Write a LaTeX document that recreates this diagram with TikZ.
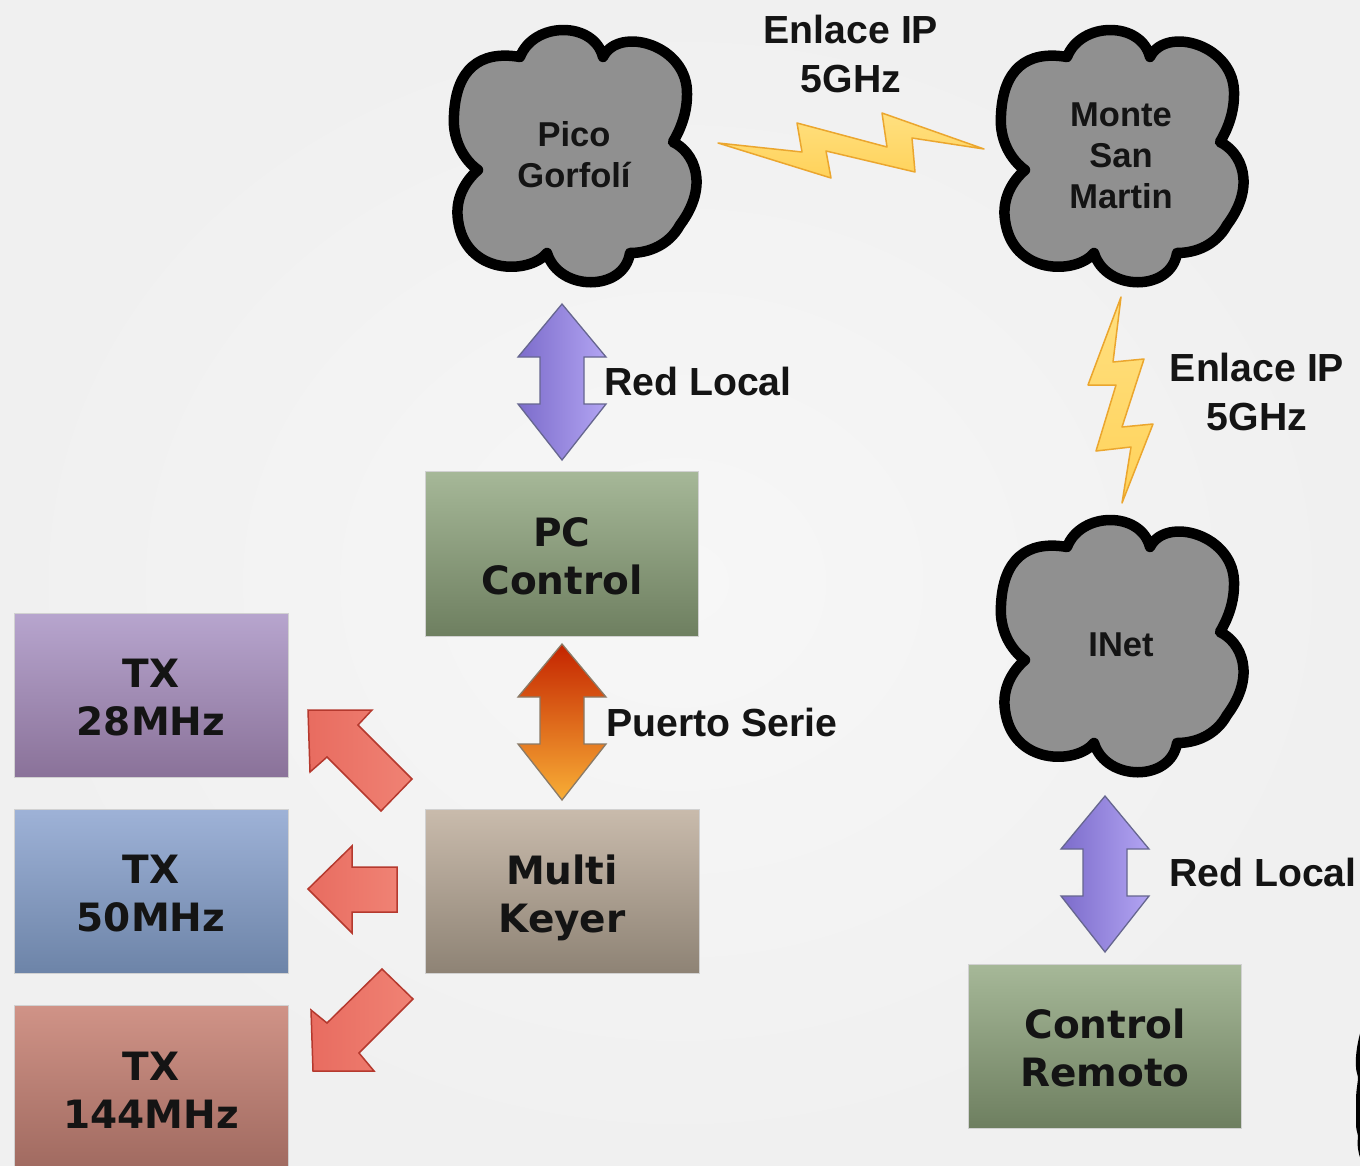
\documentclass[tikz,border=0pt]{standalone}
\usepackage{fontspec}
\setmainfont{Liberation Sans}
\newfontfamily\boxfont{DejaVu Sans}[BoldFont={DejaVu Sans Bold}]
\usetikzlibrary{shadings}
\definecolor{txtc}{HTML}{141414}
\definecolor{cloudgrey}{HTML}{909090}
\tikzset{
  x=1pt,y=-1pt,
  cloudshape/.style={draw=black,line width=10.5pt,fill=cloudgrey,line join=round},
  cloudlabel/.style={font=\fontsize{34.5}{41}\selectfont\bfseries,align=center,text=txtc,inner sep=0pt},
  linklabel/.style={font=\fontsize{39.2}{49}\selectfont\bfseries,align=center,text=txtc,inner sep=0pt},
  boxlabel/.style={font=\boxfont\fontsize{39}{48}\selectfont\bfseries,align=center,text=txtc,inner sep=0pt},
  panel/.style={draw=white!82!black,line width=1pt},
  bolt/.style={draw=boltedge,line width=1.5pt,line join=round,top color=boltA,bottom color=boltB},
  purplearrow/.style={draw=arrowedge,line width=1.3pt,left color=purpleL,right color=purpleR},
  fierarrow/.style={draw=fireedge,line width=1.3pt,top color=fireT,bottom color=fireB},
  redarrow/.style={draw=rededge,line width=1.5pt,left color=redL,right color=redR,line join=miter}
}
\definecolor{HTMLa}{HTML}{A6B898}
\definecolor{HTMLb}{HTML}{6E7F60}
\definecolor{boltA}{HTML}{FFE080}
\definecolor{boltB}{HTML}{FFD25A}
\definecolor{boltedge}{HTML}{EBA62E}
\definecolor{arrowedge}{HTML}{66668F}
\definecolor{purpleL}{HTML}{7C6CCB}
\definecolor{purpleR}{HTML}{B2A4F2}
\definecolor{fireedge}{HTML}{8A7A66}
\definecolor{fireT}{HTML}{C42400}
\definecolor{fireB}{HTML}{F8AE36}
\definecolor{rededge}{HTML}{B5392E}
\definecolor{redL}{HTML}{E86C60}
\definecolor{redR}{HTML}{F08274}
\definecolor{keyA}{HTML}{C9BBAC}
\definecolor{keyB}{HTML}{8E8375}
\definecolor{t28A}{HTML}{B7A5CE}
\definecolor{t28B}{HTML}{8A7299}
\definecolor{t50A}{HTML}{9EB2D7}
\definecolor{t50B}{HTML}{6D84A8}
\definecolor{t144A}{HTML}{D09387}
\definecolor{t144B}{HTML}{A06A60}
\definecolor{bgin}{HTML}{F7F7F7}
\definecolor{bgout}{HTML}{F0F0F0}
\newcommand{\cloudat}[2]{%
  \begin{scope}[shift={(#1,#2)}]
  \draw[cloudshape] (-54,-93)
    .. controls (-40,-129) and (20,-129) .. (29,-93)
    .. controls (45,-125) and (115,-105) .. (113,-55)
    .. controls (113,-35) and (105,-18) .. (99,-8)
    .. controls (120,2) and (136,35) .. (106,75)
    .. controls (95,95) and (75,103) .. (56,103)
    .. controls (50,142) and (-15,142) .. (-27,103)
    .. controls (-45,125) and (-109,125) .. (-116,70)
    .. controls (-119,50) and (-110,32) .. (-96,20)
    .. controls (-110,10) and (-122,-10) .. (-120,-35)
    .. controls (-118,-80) and (-95,-100) .. (-54,-93) -- cycle;
  \end{scope}}
\newcommand{\dblarrow}[3]{%
  \begin{scope}[shift={(#1,#2)}]
  \draw[#3] (0,0) -- (44,53) -- (22,53) -- (22,100) -- (44,100) -- (0,156)
    -- (-44,100) -- (-22,100) -- (-22,53) -- (-44,53) -- cycle;
  \end{scope}}
\begin{document}
\begin{tikzpicture}
\useasboundingbox (0,0) rectangle (1360,1165);
\clip (0,0) rectangle (1360,1165);
\fill[inner color=bgin,outer color=bgout] (0,0) rectangle (1360,1165);

% clouds
\cloudat{574}{150}
\cloudat{1121}{150}
\cloudat{1121}{640}
\fill[black] (1361,1030) .. controls (1358,1040) and (1355,1055) .. (1356,1067)
  .. controls (1356,1072) and (1358,1075) .. (1358,1078)
  .. controls (1358,1082) and (1356,1090) .. (1356,1100)
  -- (1356,1125) .. controls (1356,1130) and (1358,1134) .. (1358,1137)
  .. controls (1357,1145) and (1358,1153) .. (1361,1160) -- cycle;
\node[cloudlabel] (pico) at (574,155) {Pico\\Gorfolí};
\node[cloudlabel] (monte) at (1121,156) {Monte\\San\\Martin};
\node[cloudlabel] (inet) at (1121,645) {INet};

% lightning
\draw[bolt] (718,143) -- (802,152) -- (797,123) -- (887,147) -- (882,113) -- (984,149)
  -- (912,138) -- (915,172) -- (826,151) -- (831,178) -- cycle;
\draw[bolt] (1121,297) -- (1113,362) -- (1144,359) -- (1122,427) -- (1153,424) -- (1122,503)
  -- (1131,447) -- (1096,451) -- (1116,385) -- (1088,385) -- cycle;

% boxes
\draw[panel,top color=HTMLa,bottom color=HTMLb] (425,471) rectangle (698,636);
\draw[panel,top color=HTMLa,bottom color=HTMLb] (968,964) rectangle (1241,1128);
\draw[panel,top color=keyA,bottom color=keyB] (425,809) rectangle (699,973);
\draw[panel,top color=t28A,bottom color=t28B] (14,613) rectangle (288,777);
\draw[panel,top color=t50A,bottom color=t50B] (14,809) rectangle (288,973);
\draw[panel,top color=t144A,bottom color=t144B] (14,1005) rectangle (288,1170);
\node[boxlabel] (pc) at (562,556) {PC\\Control};
\node[boxlabel] (remoto) at (1105,1048) {Control\\Remoto};
\node[boxlabel] (keyer) at (562,898) {Multi\\Keyer};
\node[boxlabel] (tx28) at (151,698) {TX\\28MHz};
\node[boxlabel] (tx50) at (151,894) {TX\\50MHz};
\node[boxlabel] (tx144) at (151,1090) {TX\\144MHz};

% double arrows
\dblarrow{562}{304}{purplearrow}
\dblarrow{562}{644}{fierarrow}
\dblarrow{1105}{796}{purplearrow}

% red arrows
\draw[redarrow] (308,710) -- (372,710) -- (358,725) -- (412,779) -- (381,811) -- (327,757) -- (310,772) -- cycle;
\draw[redarrow] (308,889) -- (352,846) -- (352,867) -- (397,867) -- (397,912) -- (352,912) -- (352,933) -- cycle;
\draw[redarrow] (382,969) -- (413,999) -- (359,1053) -- (374,1071) -- (313,1071) -- (311,1010) -- (327,1023) -- cycle;

% labels
\node[linklabel] (ip1) at (851,54) {Enlace IP\\5GHz};
\node[linklabel] (ip2) at (1257,392) {Enlace IP\\5GHz};
\node[linklabel] (red1) at (698,381) {Red Local};
\node[linklabel] (red2) at (1263,872) {Red Local};
\node[linklabel] (serie) at (722,722) {Puerto Serie};
\end{tikzpicture}
\end{document}
